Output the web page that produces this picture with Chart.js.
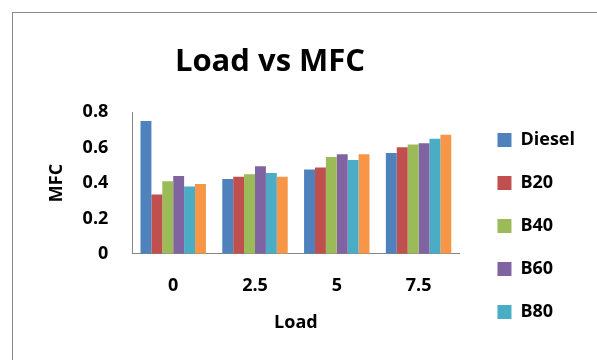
<!DOCTYPE html>
<html>
<head>
<meta charset="utf-8">
<script src="https://cdn.jsdelivr.net/npm/chart.js@4/dist/chart.umd.min.js"></script>
<style>
  html, body { margin: 0; padding: 0; background: #fff; overflow: hidden; }
  #wrap { position: relative; width: 597px; height: 360px; }
  #frame { position: absolute; left: 12px; top: 12px; width: 700px; height: 500px;
           border-left: 1px solid #8a8a8a; border-top: 1px solid #8a8a8a; box-sizing: border-box; pointer-events: none; }
  canvas { position: absolute; left: 0; top: 0; }
</style>
</head>
<body>
<div id="wrap">
  <canvas id="c" width="597" height="360"></canvas>
  <div id="frame"></div>
</div>
<script>
const categories = ["0", "2.5", "5", "7.5"];
const seriesNames = ["Diesel", "B20", "B40", "B60", "B80", "B100"];
const diesel = [0.75, 0.423, 0.476, 0.57];
const b20    = [0.335, 0.436, 0.488, 0.602];
const b40    = [0.41, 0.45, 0.547, 0.617];
const b60    = [0.44, 0.495, 0.562, 0.625];
const b80    = [0.38, 0.457, 0.53, 0.65];
const b100   = [0.395, 0.436, 0.562, 0.673];
const yTicks = [0, 0.2, 0.4, 0.6, 0.8];
const colors = ["#4F81BD", "#C0504D", "#9BBB59", "#8064A2", "#4BACC6", "#F79646"];

const seriesValues = [diesel, b20, b40, b60, b80, b100];
const FONT = "'Open Sans', Lato, sans-serif";

// Excel-like placement of the title block and legend block
const placeBlocks = {
  id: "placeBlocks",
  afterLayout(chart) {
    const t = chart.titleBlock;
    if (t) { t.left = 12; t.right = 528; }
    const lg = chart.legend;
    if (lg) {
      const w = lg.right - lg.left;
      lg.left = chart.chartArea.right + 13;
      lg.right = lg.left + w;
    }
  }
};

new Chart(document.getElementById("c"), {
  type: "bar",
  data: {
    labels: categories,
    datasets: seriesValues.map((vals, i) => ({
      label: seriesNames[i],
      data: vals,
      backgroundColor: colors[i],
      borderWidth: 0,
      categoryPercentage: 0.8,
      barPercentage: 1.0
    }))
  },
  plugins: [placeBlocks],
  options: {
    responsive: false,
    animation: false,
    devicePixelRatio: 1,
    layout: { padding: { left: 40, right: 25, top: 44, bottom: 14 } },
    plugins: {
      tooltip: { enabled: false },
      title: {
        display: true,
        text: "Load vs MFC",
        color: "#000",
        font: { family: FONT, size: 31, weight: "bold" },
        padding: { top: 0, bottom: 31 }
      },
      legend: {
        display: true,
        position: "right",
        align: "end",
        labels: {
          color: "#000",
          font: { family: FONT, size: 18, weight: "bold" },
          boxWidth: 14,
          boxHeight: 14,
          padding: 25,
          filter: (item) => item.datasetIndex < 5
        }
      }
    },
    scales: {
      x: {
        grid: { display: false, drawTicks: false },
        border: { display: true, color: "#868686", width: 1 },
        ticks: { color: "#000", font: { family: FONT, size: 18, weight: "bold" }, padding: 21, maxRotation: 0 },
        title: { display: true, text: "Load", color: "#000", font: { family: FONT, size: 18, weight: "bold" }, padding: { top: -5, bottom: 12 } }
      },
      y: {
        min: 0,
        max: 0.8,
        afterBuildTicks: (s) => { s.ticks = yTicks.map(v => ({ value: v })); },
        grid: { display: false, drawTicks: false },
        border: { display: true, color: "#868686", width: 1 },
        ticks: { color: "#000", font: { family: FONT, size: 18, weight: "bold" }, padding: 24 },
        title: { display: true, text: "MFC", color: "#000", font: { family: FONT, size: 18, weight: "bold" }, padding: { top: 6, bottom: -9 } }
      }
    }
  }
});
</script>
</body>
</html>
